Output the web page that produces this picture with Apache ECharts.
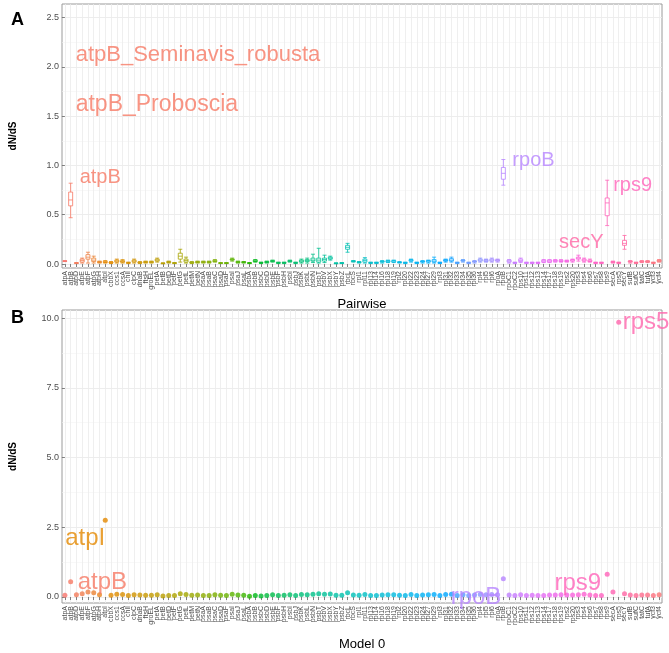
<!DOCTYPE html>
<html><head><meta charset="utf-8">
<script src="https://cdn.jsdelivr.net/npm/echarts@6/dist/echarts.min.js"></script>
<style>html,body{margin:0;padding:0;background:#fff}#c{width:669px;height:653px}</style>
</head><body><div id="c"></div>
<script>
// ---- data ----
const genes = ['atpA','atpB','atpD','atpE','atpF','atpG','atpH','atpI','cbbX','ccs1','ccsA','chlI','clpC','dnaB','ftsH','groEL',
 'petA','petB','petD','petF','petG','petL','petM','petN','psaA','psaB','psaC','psaD','psaF','psaI','psaJ','psaL',
 'psbA','psbB','psbC','psbD','psbE','psbF','psbH','psbI','psbJ','psbK','psbL','psbN','psbT','psbV','psbX','psbY','psbZ',
 'rbcL','rbcS','rpl1','rpl11','rpl13','rpl14','rpl16','rpl18','rpl19','rpl2','rpl20','rpl22','rpl23','rpl24','rpl27','rpl29',
 'rpl3','rpl31','rpl32','rpl33','rpl34','rpl35','rpl36','rpl4','rpl5','rpl6','rpoA','rpoB','rpoC1','rpoC2',
 'rps10','rps11','rps12','rps13','rps14','rps17','rps18','rps19','rps2','rps20','rps3','rps4','rps6','rps7','rps8','rps9',
 'secA','rps5','secY','sufB','sufC','tatC','tufA','ycf3','ycf4'];

// Pairwise dN/dS box statistics (whisker low, Q1, median, Q3, whisker high)
const lowA  = [0.025,0.47,0.005,0.01,0.01,0.01,0.01,0.01,0.005,0.01,0.01,0.005,0.01,0.005,0.01,0.01,
 0.02,0.003,0.01,0.005,0.02,0.01,0.005,0.01,0.01,0.01,0.02,0.005,0.005,0.03,0.01,0.01,
 0.005,0.02,0.005,0.01,0.02,0.005,0.005,0.02,0.005,0.01,0.01,0.015,0.01,0.015,0.04,0.003,0.005,
 0.12,0.02,0.01,0.01,0.005,0.005,0.01,0.015,0.015,0.01,0.005,0.02,0.005,0.01,0.01,0.01,
 0.005,0.02,0.02,0.005,0.02,0.005,0.01,0.02,0.02,0.02,0.02,0.80,0.01,0.005,
 0.015,0.005,0.005,0.005,0.015,0.015,0.02,0.02,0.02,0.02,0.03,0.02,0.02,0.005,0.005,0.39,
 0.01,0.005,0.15,0.01,0.005,0.015,0.015,0.005,0.02];
const q1A   = [0.028,0.59,0.008,0.02,0.05,0.025,0.015,0.015,0.01,0.02,0.018,0.01,0.02,0.01,0.015,0.015,
 0.03,0.005,0.015,0.008,0.05,0.02,0.01,0.015,0.015,0.015,0.025,0.008,0.008,0.04,0.015,0.015,
 0.008,0.025,0.01,0.015,0.025,0.01,0.01,0.025,0.01,0.02,0.025,0.03,0.02,0.03,0.05,0.005,0.008,
 0.15,0.025,0.015,0.02,0.01,0.01,0.02,0.02,0.02,0.015,0.01,0.03,0.01,0.02,0.02,0.02,
 0.01,0.03,0.03,0.01,0.03,0.01,0.02,0.03,0.025,0.03,0.03,0.86,0.02,0.01,
 0.025,0.01,0.01,0.01,0.02,0.02,0.025,0.025,0.025,0.03,0.05,0.03,0.025,0.01,0.01,0.49,
 0.015,0.01,0.19,0.02,0.01,0.02,0.02,0.01,0.025];
const medA  = [0.03,0.65,0.01,0.035,0.07,0.04,0.02,0.02,0.015,0.03,0.025,0.012,0.03,0.015,0.02,0.02,
 0.04,0.007,0.02,0.01,0.08,0.035,0.015,0.02,0.02,0.02,0.03,0.01,0.01,0.045,0.02,0.02,
 0.01,0.03,0.012,0.02,0.03,0.012,0.012,0.03,0.012,0.03,0.035,0.04,0.04,0.045,0.06,0.008,0.01,
 0.17,0.03,0.02,0.035,0.012,0.012,0.025,0.028,0.03,0.018,0.012,0.038,0.012,0.025,0.03,0.03,
 0.012,0.035,0.04,0.012,0.035,0.012,0.025,0.04,0.035,0.04,0.035,0.92,0.03,0.012,
 0.035,0.012,0.012,0.012,0.03,0.03,0.035,0.03,0.03,0.04,0.06,0.04,0.03,0.012,0.012,0.62,
 0.02,0.012,0.21,0.025,0.012,0.025,0.025,0.012,0.035];
const q3A   = [0.032,0.73,0.012,0.05,0.095,0.06,0.025,0.028,0.02,0.04,0.035,0.015,0.04,0.02,0.025,0.025,
 0.05,0.01,0.025,0.012,0.11,0.05,0.02,0.025,0.025,0.025,0.038,0.012,0.012,0.052,0.025,0.022,
 0.012,0.04,0.015,0.025,0.035,0.015,0.015,0.035,0.015,0.04,0.045,0.06,0.06,0.06,0.07,0.01,0.012,
 0.19,0.032,0.022,0.05,0.015,0.015,0.03,0.035,0.035,0.02,0.015,0.045,0.015,0.03,0.035,0.045,
 0.015,0.045,0.055,0.015,0.04,0.015,0.03,0.05,0.045,0.05,0.045,0.98,0.04,0.015,
 0.05,0.015,0.015,0.015,0.04,0.04,0.04,0.038,0.035,0.045,0.07,0.05,0.04,0.015,0.015,0.67,
 0.025,0.015,0.24,0.03,0.015,0.03,0.03,0.015,0.04];
const highA = [0.035,0.82,0.015,0.06,0.12,0.08,0.03,0.035,0.025,0.05,0.045,0.02,0.05,0.025,0.03,0.03,
 0.06,0.012,0.03,0.015,0.15,0.07,0.025,0.03,0.03,0.03,0.045,0.015,0.015,0.06,0.03,0.025,
 0.015,0.045,0.02,0.03,0.04,0.02,0.02,0.04,0.02,0.05,0.06,0.10,0.16,0.09,0.08,0.012,0.015,
 0.21,0.035,0.025,0.065,0.02,0.02,0.035,0.04,0.04,0.025,0.02,0.05,0.02,0.035,0.04,0.07,
 0.02,0.05,0.07,0.02,0.045,0.02,0.035,0.06,0.05,0.06,0.05,1.06,0.045,0.02,
 0.06,0.02,0.02,0.02,0.045,0.045,0.045,0.045,0.04,0.05,0.09,0.06,0.05,0.02,0.02,0.85,
 0.03,0.02,0.29,0.035,0.02,0.035,0.035,0.02,0.045];

// Model 0 dN/dS per gene
const model0 = [0.06,0.55,0.08,0.12,0.18,0.15,0.08,2.75,0.06,0.10,0.09,0.05,0.08,0.07,0.06,0.06,
 0.08,0.04,0.05,0.05,0.12,0.09,0.06,0.07,0.05,0.05,0.08,0.06,0.05,0.10,0.07,0.06,
 0.03,0.05,0.04,0.05,0.08,0.05,0.06,0.08,0.05,0.09,0.08,0.10,0.12,0.10,0.11,0.06,0.06,
 0.15,0.07,0.06,0.09,0.05,0.05,0.07,0.08,0.08,0.06,0.05,0.09,0.05,0.07,0.08,0.09,
 0.05,0.09,0.10,0.05,0.08,0.05,0.07,0.09,0.08,0.09,0.08,0.65,0.07,0.05,
 0.08,0.05,0.06,0.05,0.05,0.07,0.07,0.08,0.07,0.07,0.08,0.10,0.07,0.05,0.05,0.82,
 0.18,9.85,0.12,0.07,0.05,0.07,0.07,0.05,0.08];

const ticksA = [0, 0.5, 1, 1.5, 2, 2.5];
const minorA = [0.25, 0.75, 1.25, 1.75, 2.25];
const ticksB = [0, 2.5, 5, 7.5, 10];
const minorB = [1.25, 3.75, 6.25, 8.75];

const annotTextsA  = ['atpB_Seminavis_robusta','atpB_Proboscia','atpB','rpoB','rps9','secY'];
const annotGenesA  = ['atpB','atpB','atpB','rpoB','rps9','secY'];
const annotValuesA = [2.12, 1.62, 0.88, 1.05, 0.80, 0.22];

const annotTextsB  = ['rps5','atpI','atpB','rpoB','rps9'];
const annotGenesB  = ['rps5','atpI','atpB','rpoB','rps9'];
const annotValuesB = [9.85, 2.10, 0.54, 0.0, 0.50];

// ---- styling helpers ----
function hcl(h, c, l) {
  const hr = h * Math.PI / 180;
  const U = c * Math.cos(hr), V = c * Math.sin(hr);
  const Xn = 95.047, Yn = 100, Zn = 108.883;
  const un = 4 * Xn / (Xn + 15 * Yn + 3 * Zn), vn = 9 * Yn / (Xn + 15 * Yn + 3 * Zn);
  const Y = l > 8 ? Yn * Math.pow((l + 16) / 116, 3) : Yn * l / 903.3;
  const u = U / (13 * l) + un, v = V / (13 * l) + vn;
  const X = Y * 9 * u / (4 * v), Z = Y * (12 - 3 * u - 20 * v) / (4 * v);
  const x = X / 100, y = Y / 100, z = Z / 100;
  const lin = [3.2406 * x - 1.5372 * y - 0.4986 * z, -0.9689 * x + 1.8758 * y + 0.0415 * z, 0.0557 * x - 0.2040 * y + 1.0570 * z];
  const g = lin.map(t => { t = t <= 0.0031308 ? 12.92 * t : 1.055 * Math.pow(t, 1 / 2.4) - 0.055; return Math.round(Math.max(0, Math.min(1, t)) * 255); });
  return 'rgb(' + g.join(',') + ')';
}
const N = genes.length;
const palette = genes.map((g, i) => hcl(15 + 360 * i / N, 100, 65));
const colorOf = g => palette[genes.indexOf(g)];

const FONT = "'Liberation Sans', Arial, Helvetica, sans-serif";
const GRID_COL = '#EBEBEB', MINOR_COL = '#F4F4F4', AXIS_TXT = '#4D4D4D';
const idx = genes.map((g, i) => i);

function catAxis(gi, name, nameGap) {
  return {
    type: 'category', gridIndex: gi, data: genes, boundaryGap: true,
    axisLine: { show: false },
    axisTick: { show: true, alignWithLabel: true, interval: 0, length: 3, lineStyle: { color: '#333', width: 0.6 } },
    axisLabel: { interval: 0, rotate: 90, fontSize: 7, color: AXIS_TXT, margin: 3, fontFamily: FONT },
    splitLine: { show: false },
    name: name, nameLocation: 'middle', nameGap: nameGap,
    nameTextStyle: { fontSize: 13, color: '#000', fontFamily: FONT }
  };
}
function gridXAxis(gi) {
  return {
    type: 'value', gridIndex: gi, min: -0.5, max: N - 0.5, show: true,
    axisLine: { show: false }, axisLabel: { show: false },
    axisTick: { show: false, customValues: idx },
    splitLine: { show: true, customValues: idx, lineStyle: { color: GRID_COL, width: 0.8 } }
  };
}
function valAxis(gi, min, max, ticks, name) {
  return {
    type: 'value', gridIndex: gi, min: min, max: max,
    axisLine: { show: false },
    axisTick: { show: true, customValues: ticks, length: 3, lineStyle: { color: '#333', width: 0.6 } },
    axisLabel: { customValues: ticks, formatter: v => v.toFixed(1), fontSize: 9, color: AXIS_TXT, margin: 3, fontFamily: FONT },
    splitLine: { show: true, customValues: ticks, lineStyle: { color: GRID_COL, width: 0.9 } },
    name: name, nameLocation: 'middle', nameGap: 44, nameRotate: 90,
    nameTextStyle: { fontSize: 10, fontWeight: 'bold', color: '#000', fontFamily: FONT }
  };
}
function minorAxis(gi, min, max, vals) {
  return {
    type: 'value', gridIndex: gi, min: min, max: max,
    axisLine: { show: false }, axisLabel: { show: false },
    axisTick: { show: false, customValues: vals },
    splitLine: { show: true, customValues: vals, lineStyle: { color: MINOR_COL, width: 0.6 } }
  };
}

const boxData = genes.map((g, i) => ({
  value: [lowA[i], q1A[i], medA[i], q3A[i], highA[i]],
  itemStyle: { color: '#fff', borderColor: palette[i] }
}));
const pointData = genes.map((g, i) => ({ value: [g, model0[i]], itemStyle: { color: palette[i] } }));

const styleA = { 'atpB_Seminavis_robusta': ['right', 5, 22], 'atpB_Proboscia': ['right', 5, 23], 'atpB': ['right', 9, 20],
                 'rpoB': ['right', 9, 20], 'rps9': ['right', 6, 20], 'secY': ['left', 21, 20] };
const annotDataA = annotTextsA.map((t, i) => ({
  value: [annotGenesA[i], annotValuesA[i]],
  label: { show: true, formatter: t, position: styleA[t][0], distance: styleA[t][1], fontSize: styleA[t][2],
           color: colorOf(annotGenesA[i]), fontFamily: FONT }
}));
const styleB = { 'rps5': ['right', 4], 'atpI': ['left', 0], 'atpB': ['right', 7], 'rpoB': ['left', 2], 'rps9': ['left', 6] };
const annotDataB = annotTextsB.map((t, i) => ({
  value: [annotGenesB[i], annotValuesB[i]],
  label: { show: true, formatter: t, position: styleB[t][0], distance: styleB[t][1], color: colorOf(annotGenesB[i]), fontSize: 24, fontFamily: FONT }
}));

const gridA = { left: 61, top: 4, width: 601, height: 264, show: true, borderColor: '#9a9a9a', borderWidth: 1, backgroundColor: '#fff' };
const gridB = { left: 61, top: 310, width: 601, height: 293, show: true, borderColor: '#9a9a9a', borderWidth: 1, backgroundColor: '#fff' };
const yA = [-0.04, 2.637], yB = [-0.215, 10.29];

const chart = echarts.init(document.getElementById('c'), null, { renderer: 'canvas' });
chart.setOption({
  animation: false,
  backgroundColor: '#fff',
  textStyle: { fontFamily: FONT },
  title: [
    { text: 'A', left: 6, top: 6, textStyle: { fontSize: 18, fontWeight: 'bold', color: '#000', fontFamily: FONT } },
    { text: 'B', left: 6, top: 304, textStyle: { fontSize: 18, fontWeight: 'bold', color: '#000', fontFamily: FONT } }
  ],
  grid: [gridA, gridB],
  xAxis: [catAxis(0, 'Pairwise', 30), gridXAxis(0), catAxis(1, 'Model 0', 35), gridXAxis(1)],
  yAxis: [valAxis(0, yA[0], yA[1], ticksA, 'dN/dS'), minorAxis(0, yA[0], yA[1], minorA),
          valAxis(1, yB[0], yB[1], ticksB, 'dN/dS'), minorAxis(1, yB[0], yB[1], minorB)],
  series: [
    { type: 'boxplot', xAxisIndex: 0, yAxisIndex: 0, data: boxData, boxWidth: [4, 4], itemStyle: { borderWidth: 0.8 }, z: 3 },
    { type: 'scatter', xAxisIndex: 0, yAxisIndex: 0, data: annotDataA, symbolSize: 0, itemStyle: { color: 'transparent' }, z: 5, silent: true },
    { type: 'scatter', xAxisIndex: 2, yAxisIndex: 2, data: pointData, symbolSize: 5, z: 3 },
    { type: 'scatter', xAxisIndex: 2, yAxisIndex: 2, data: annotDataB, symbolSize: 0, itemStyle: { color: 'transparent' }, z: 5, silent: true }
  ]
});
</script></body></html>
